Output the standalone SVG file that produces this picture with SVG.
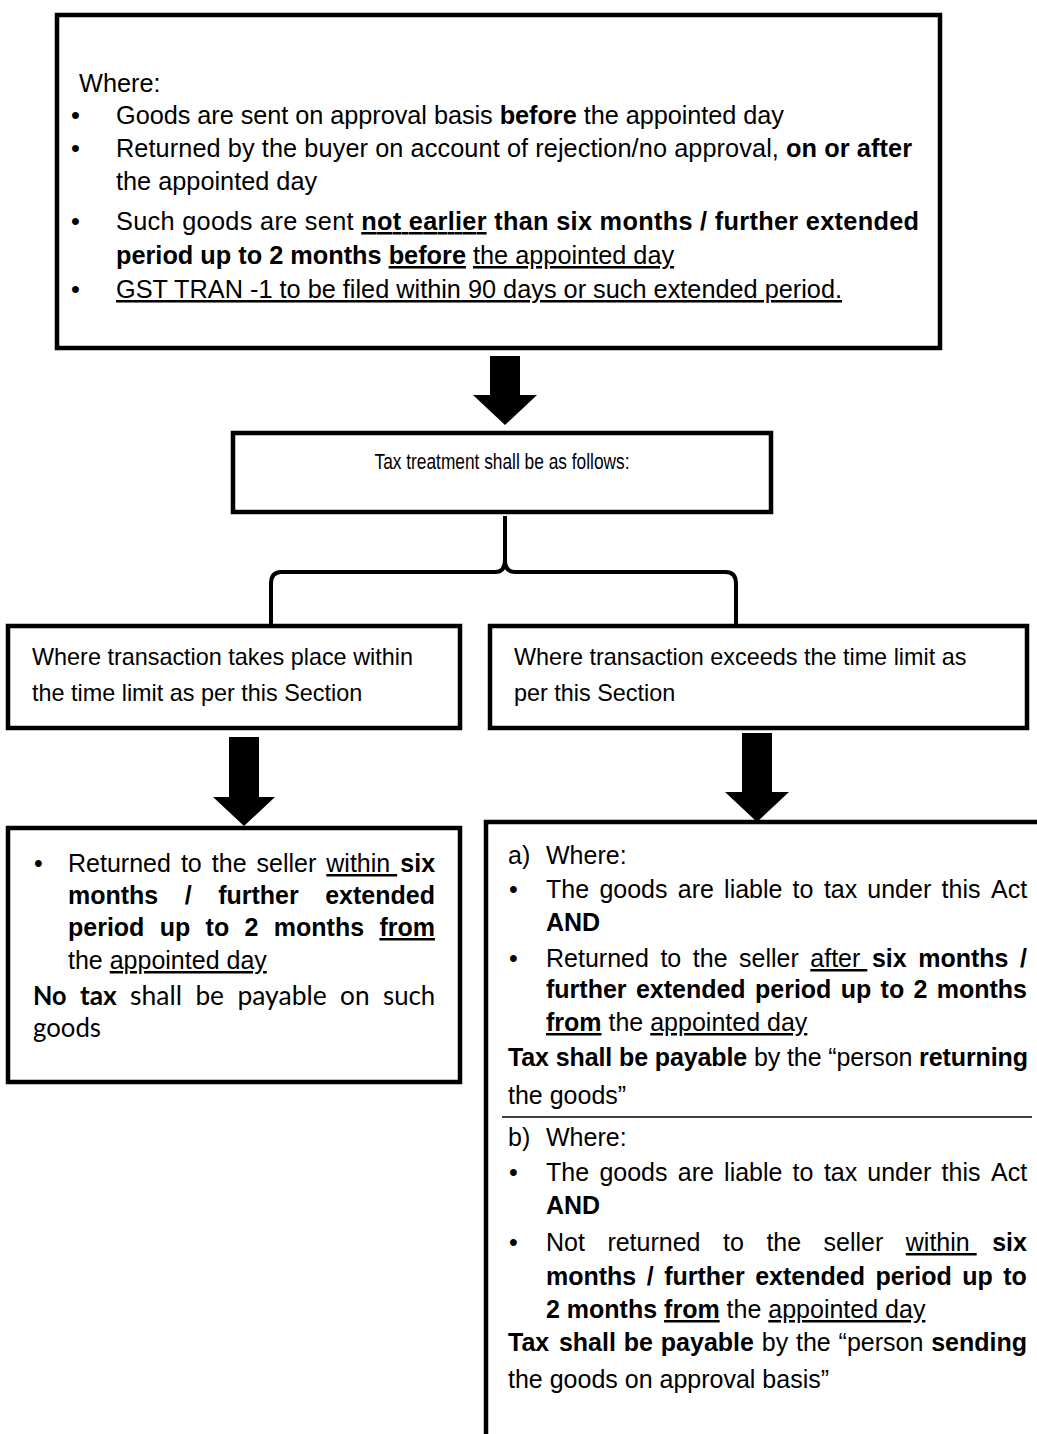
<svg xmlns="http://www.w3.org/2000/svg" width="1037" height="1434" viewBox="0 0 1037 1434">
<style>
.t{font-family:"Liberation Sans",Arial,sans-serif;font-size:25px;fill:#000}
.t1{font-size:25.3px}
.t2{font-size:23.4px}
.t3{font-size:22px}
.b{font-weight:bold}
.u{text-decoration:underline}
.bu{font-weight:bold;text-decoration:underline}
.c{font-family:Lato,"Open Sans",sans-serif;font-size:27px;fill:#000}
.box{fill:#fff;stroke:#000;stroke-width:4.5}
.edge{fill:none;stroke:#000;stroke-width:4.5}
.arrow{fill:#000;stroke:none}
.brace{fill:none;stroke:#000;stroke-width:4;stroke-linejoin:round}
</style>
<rect width="1037" height="1434" fill="#fff"/>

<g id="connectors">
<path class="arrow" d="M490,356 H520 V395 H537 L505,425 L473,395 H490 Z"/>
<path class="brace" d="M505,516 V560 Q505,572 495,572 H281 Q271,572 271,584 V626 M505,560 Q505,572 515,572 H726 Q736,572 736,584 V626"/>
<path class="arrow" d="M229,737 H259 V797 H275 L244,826 L213,797 H229 Z"/>
<path class="arrow" d="M742,733 H772 V792 H789 L757,822 L725,792 H742 Z"/>
</g>

<g id="node-conditions">
<rect class="box" x="57" y="15" width="883" height="333"/>
<text class="t t1" x="79" y="92">Where:</text>
<text class="t t1" x="71" y="124">•</text>
<text class="t t1" x="116" y="124" textLength="668" lengthAdjust="spacing">Goods are sent on approval basis <tspan class="b">before</tspan> the appointed day</text>
<text class="t t1" x="71" y="157">•</text>
<text class="t t1" x="116" y="157" textLength="796" lengthAdjust="spacing">Returned by the buyer on account of rejection/no approval, <tspan class="b">on or after</tspan></text>
<text class="t t1" x="116" y="190">the appointed day</text>
<text class="t t1" x="71" y="230">•</text>
<text class="t t1" x="116" y="230" textLength="803" lengthAdjust="spacing">Such goods are sent <tspan class="bu">not earlier</tspan><tspan class="b"> than six months / further extended</tspan></text>
<text class="t t1" x="116" y="264"><tspan class="b">period up to 2 months </tspan><tspan class="bu">before</tspan> <tspan class="u">the appointed day</tspan></text>
<text class="t t1" x="71" y="298">•</text>
<text class="t t1 u" x="116" y="298">GST TRAN -1 to be filed within 90 days or such extended period.</text>
</g>

<g id="node-tax-treatment">
<rect class="box" x="233" y="433" width="538" height="79"/>
<text class="t t3" x="502" y="469" text-anchor="middle" textLength="255" lengthAdjust="spacingAndGlyphs">Tax treatment shall be as follows:</text>
</g>

<g id="node-within-limit">
<rect class="box" x="8" y="626" width="452" height="102"/>
<text class="t t2" x="32" y="665">Where transaction takes place within</text>
<text class="t t2" x="32" y="701">the time limit as per this Section</text>
</g>

<g id="node-exceeds-limit">
<rect class="box" x="490" y="626" width="537" height="102"/>
<text class="t t2" x="514" y="665">Where transaction exceeds the time limit as</text>
<text class="t t2" x="514" y="701">per this Section</text>
</g>

<g id="node-no-tax">
<rect class="box" x="8" y="828" width="452" height="254"/>
<text class="t" x="34" y="872">•</text>
<text class="t" y="872"><tspan x="68">Returned</tspan><tspan x="180.9">to</tspan><tspan x="211.8">the</tspan><tspan x="256.6">seller</tspan><tspan x="326.3" class="u">within </tspan><tspan x="400.3" class="b">six</tspan></text>
<text class="t b" y="904"><tspan x="68">months</tspan><tspan x="184.8">/</tspan><tspan x="218.2">further</tspan><tspan x="325.2">extended</tspan></text>
<text class="t b" y="936"><tspan x="68">period</tspan><tspan x="159.7">up</tspan><tspan x="205.6">to</tspan><tspan x="244.5">2</tspan><tspan x="273.8">months</tspan><tspan x="379.4" class="u">from</tspan></text>
<text class="t" x="68" y="969">the <tspan class="u">appointed day</tspan></text>
<text class="c" y="1005"><tspan x="33" class="b" textLength="33.5" lengthAdjust="spacingAndGlyphs">No</tspan><tspan x="79.9" class="b" textLength="36.8" lengthAdjust="spacingAndGlyphs">tax</tspan><tspan x="130.1" textLength="51.9" lengthAdjust="spacingAndGlyphs">shall</tspan><tspan x="195.4" textLength="28.6" lengthAdjust="spacingAndGlyphs">be</tspan><tspan x="237.4" textLength="89.3" lengthAdjust="spacingAndGlyphs">payable</tspan><tspan x="340.1" textLength="29.5" lengthAdjust="spacingAndGlyphs">on</tspan><tspan x="383" textLength="52.2" lengthAdjust="spacingAndGlyphs">such</tspan></text>
<text class="c" x="33" y="1037" textLength="68" lengthAdjust="spacingAndGlyphs">goods</text>
</g>

<g id="node-tax-payable">
<path class="edge" d="M1037,822 H486 V1434"/>
<line x1="502" y1="1117" x2="1032" y2="1117" stroke="#000" stroke-width="1.5"/>
<text class="t" x="508" y="864">a)</text>
<text class="t" x="546" y="864">Where:</text>
<text class="t" x="509" y="898">•</text>
<text class="t" y="898"><tspan x="546">The</tspan><tspan x="599.4">goods</tspan><tspan x="677.8">are</tspan><tspan x="724.1">liable</tspan><tspan x="792.5">to</tspan><tspan x="823.9">tax</tspan><tspan x="867.3">under</tspan><tspan x="941.6">this</tspan><tspan x="991">Act</tspan></text>
<text class="t b" x="546" y="931">AND</text>
<text class="t" x="509" y="967">•</text>
<text class="t" y="967"><tspan x="546">Returned</tspan><tspan x="660.4">to</tspan><tspan x="692.8">the</tspan><tspan x="739.1">seller</tspan><tspan x="810.3" class="u">after </tspan><tspan x="871.9" class="b">six</tspan><tspan x="918.2" class="b">months</tspan><tspan x="1020" class="b">/</tspan></text>
<text class="t b" y="998"><tspan x="546">further</tspan><tspan x="635.9">extended</tspan><tspan x="755">period</tspan><tspan x="840.7">up</tspan><tspan x="880.6">to</tspan><tspan x="913.5">2</tspan><tspan x="936.7">months</tspan></text>
<text class="t" x="546" y="1031"><tspan class="bu">from</tspan> the <tspan class="u">appointed day</tspan></text>
<text class="t" x="508" y="1066" textLength="520" lengthAdjust="spacing"><tspan class="b">Tax shall be payable</tspan> by the “person <tspan class="b">returning</tspan></text>
<text class="t" x="508" y="1104">the goods”</text>
<text class="t" x="508" y="1146">b)</text>
<text class="t" x="546" y="1146">Where:</text>
<text class="t" x="509" y="1181">•</text>
<text class="t" y="1181"><tspan x="546">The</tspan><tspan x="599.4">goods</tspan><tspan x="677.8">are</tspan><tspan x="724.1">liable</tspan><tspan x="792.5">to</tspan><tspan x="823.9">tax</tspan><tspan x="867.3">under</tspan><tspan x="941.6">this</tspan><tspan x="991">Act</tspan></text>
<text class="t b" x="546" y="1214">AND</text>
<text class="t" x="509" y="1251">•</text>
<text class="t" y="1251"><tspan x="546">Not</tspan><tspan x="607.4">returned</tspan><tspan x="723">to</tspan><tspan x="766.4">the</tspan><tspan x="823.6">seller</tspan><tspan x="905.8" class="u">within </tspan><tspan x="992.2" class="b">six</tspan></text>
<text class="t b" y="1285"><tspan x="546">months</tspan><tspan x="646.8">/</tspan><tspan x="664.2">further</tspan><tspan x="755.2">extended</tspan><tspan x="875.4">period</tspan><tspan x="962.3">up</tspan><tspan x="1003.3">to</tspan></text>
<text class="t" x="546" y="1318"><tspan class="b">2 months </tspan><tspan class="bu">from</tspan> the <tspan class="u">appointed day</tspan></text>
<text class="t" y="1351"><tspan x="508" class="b">Tax</tspan><tspan x="558.9" class="b">shall</tspan><tspan x="623.8" class="b">be</tspan><tspan x="660.8" class="b">payable</tspan><tspan x="761.8">by</tspan><tspan x="796">the</tspan><tspan x="838.6">“person</tspan><tspan x="931.2" class="b">sending</tspan></text>
<text class="t" x="508" y="1388">the goods on approval basis”</text>
</g>
</svg>
